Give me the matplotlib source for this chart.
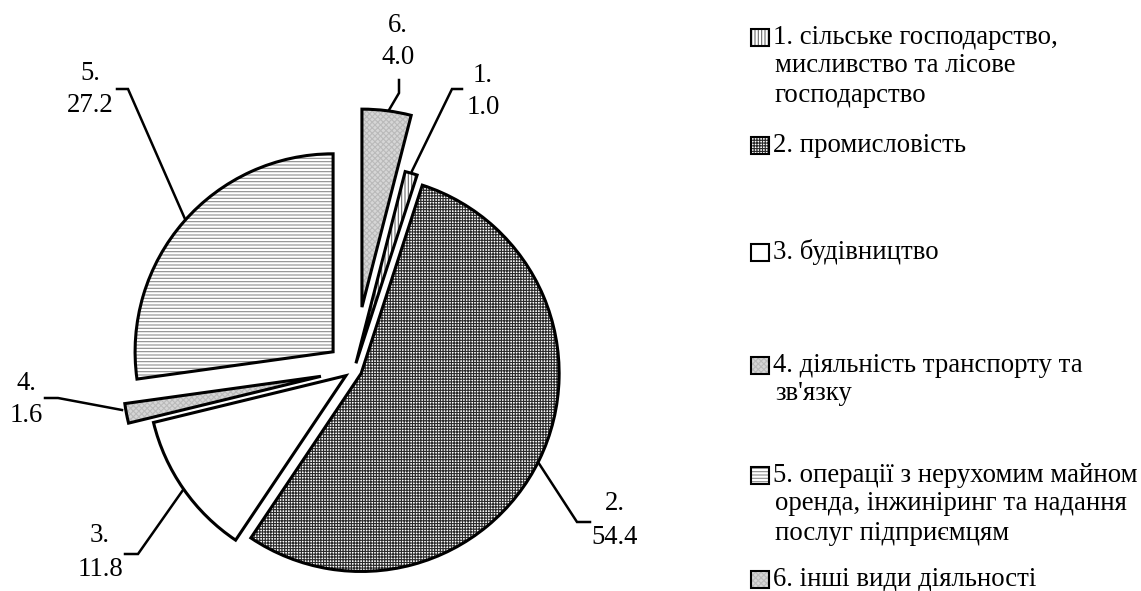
import matplotlib
matplotlib.use('Agg')
import matplotlib.pyplot as plt
from matplotlib.patches import Rectangle

categories = ["1. сільське господарство,\nмисливство та лісове\nгосподарство",
              "2. промисловість",
              "3. будівництво",
              "4. діяльність транспорту та\nзв'язку",
              "5. операції з нерухомим майном\nоренда, інжиніринг та надання\nпослуг підприємцям",
              "6. інші види діяльності"]
slice_numbers = ["1.", "2.", "3.", "4.", "5.", "6."]
values = [1.0, 54.4, 11.8, 1.6, 27.2, 4.0]
explode = [0.035, 0.04, 0.05, 0.17, 0.14, 0.32]

W, H = 1141, 591
CX, CY, R = 354, 370, 198
FS = 19.3

plt.rcParams['font.family'] = ['Liberation Serif', 'DejaVu Serif']
plt.rcParams['hatch.linewidth'] = 0.8

fig = plt.figure(figsize=(W / 100, H / 100), dpi=100)
ax = fig.add_axes([0, 0, 1, 1])


def P(px, py):
    return ((px - CX) / R, (CY - py) / R)


styles = [
    dict(face='white', hatch='|||||', hc='#6a6a6a'),
    dict(face='white', hatch='++++++', hc='#2a2a2a'),
    dict(face='white', hatch=None, hc='white'),
    dict(face='#d6d6d6', hatch='xxxxxx', hc='#bababa'),
    dict(face='white', hatch='-----', hc='#8c8c8c'),
    dict(face='#d6d6d6', hatch='xxxxxx', hc='#bababa'),
]


def style_patch(p, s):
    p.set_facecolor(s['face'])
    p.set_edgecolor(s['hc'])
    p.set_hatch(s['hatch'])
    if hasattr(p, 'set_hatchcolor'):
        p.set_hatchcolor(s['hc'])


fill, _ = ax.pie(values, explode=explode, startangle=75.6, counterclock=False,
                 radius=1, center=(0, 0), wedgeprops=dict(linewidth=0))
for w, s in zip(fill, styles):
    style_patch(w, s)

ax.pie(values, explode=explode, startangle=75.6, counterclock=False,
       radius=1, center=(0, 0), colors=['none'] * len(values),
       wedgeprops=dict(edgecolor='black', linewidth=2.2, joinstyle='miter'))

ax.set_xlim(-CX / R, (W - CX) / R)
ax.set_ylim((CY - H) / R, CY / R)
ax.set_aspect('auto')
ax.axis('off')

# data labels with leader lines (pixel positions)
label_pos = [(483, 75), (615, 504), (100, 536), (26, 383), (90, 73), (398, 25)]
leaders = [
    [(412, 171), (452, 89), (462, 89)],
    [(538, 462), (577, 522), (590, 522)],
    [(183, 490), (138, 554), (125, 554)],
    [(122, 410), (58, 398), (45, 398)],
    [(185, 219), (128, 89), (117, 89)],
    [(389, 110), (399, 93), (399, 80)],
]
for num, v, (lx, ly), pts in zip(slice_numbers, values, label_pos, leaders):
    xs, ys = zip(*[P(*q) for q in pts])
    ax.plot(xs, ys, color='black', linewidth=1.8, solid_joinstyle='miter')
    ax.text(*P(lx, ly), num, ha='center', va='center', fontsize=FS)
    ax.text(*P(lx, ly + 33), f"{v:.1f}", ha='center', va='center', fontsize=FS)

# legend
row_y = [37, 145, 252, 365, 475, 579]
for cat, s, ry in zip(categories, styles, row_y):
    x0, y0 = P(751, ry + 8.5)
    sq = Rectangle((x0, y0), 18 / R, 17 / R, linewidth=0)
    style_patch(sq, s)
    ax.add_patch(sq)
    ax.add_patch(Rectangle((x0, y0), 18 / R, 17 / R, facecolor='none',
                           edgecolor='black', linewidth=1.5))
    for i, line in enumerate(cat.split('\n')):
        ax.text(*P(773 if i == 0 else 775, ry + 29 * i), line, ha='left',
                va='center', fontsize=FS)

fig.savefig('out.png', dpi=100)
